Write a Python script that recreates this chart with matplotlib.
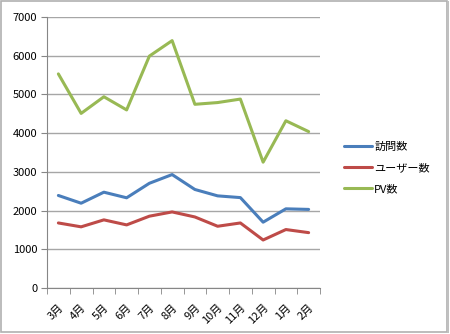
import matplotlib
matplotlib.use('Agg')
import matplotlib.pyplot as plt
import matplotlib.patches as patches
import numpy as np

plt.rcParams['font.family'] = ['Noto Sans CJK JP', 'DejaVu Sans']

months = ['3月', '4月', '5月', '6月', '7月', '8月', '9月', '10月', '11月', '12月', '1月', '2月']
visits = [2390, 2190, 2475, 2330, 2705, 2930, 2545, 2380, 2335, 1700, 2045, 2030]
users = [1680, 1580, 1760, 1630, 1855, 1965, 1835, 1595, 1680, 1240, 1510, 1430]
pv = [5530, 4510, 4940, 4600, 5990, 6390, 4745, 4790, 4880, 3250, 4320, 4040]

series = [('訪問数', visits, '#4A7EBB'),
          ('ユーザー数', users, '#BE4B48'),
          ('PV数', pv, '#98B954')]

fig = plt.figure(figsize=(4.5, 3.34), dpi=100)
ax = fig.add_axes([47 / 450, 46 / 334, 273 / 450, 271 / 334])

x = np.arange(len(months))
for name, vals, col in series:
    ax.plot(x, vals, color=col, lw=2.2, label=name, solid_capstyle='round')

ax.set_xlim(-0.5, len(months) - 0.5)
ax.set_ylim(0, 7000)
ax.set_yticks(range(0, 7001, 1000))
ax.yaxis.grid(True, color='#a6a6a6', lw=1)
ax.set_axisbelow(True)

ax.set_xticks(x)
ax.set_xticklabels(months, rotation=45, ha='right', rotation_mode='anchor', fontsize=8)
ax.set_xticks(np.arange(-0.5, len(months)), minor=True)
ax.tick_params(axis='x', which='major', length=0, pad=10)
ax.tick_params(axis='x', which='minor', length=4, color='#868686')
ax.tick_params(axis='y', length=4, color='#868686', labelsize=8, pad=3)

for s in ['top', 'right']:
    ax.spines[s].set_visible(False)
for s in ['left', 'bottom']:
    ax.spines[s].set_color('#868686')

ax.legend(loc='center left', bbox_to_anchor=(338 / 450, 1 - 168 / 334),
          bbox_transform=fig.transFigure, frameon=False, fontsize=8,
          handlelength=2.6, handletextpad=0.15, labelspacing=1.0, borderpad=0)

# outer frame, with a heavier right edge
fig.patches.append(patches.Rectangle((0.5 / 450, 2.5 / 334), 446 / 450, 330.5 / 334,
                                     transform=fig.transFigure, fill=False,
                                     edgecolor='#b0b0b0', lw=1.2))
fig.patches.append(patches.Rectangle((447 / 450, 1 / 334), 2 / 450, 332 / 334,
                                     transform=fig.transFigure, color='#c0c0c0', lw=0))

fig.savefig('out.png', dpi=100)
